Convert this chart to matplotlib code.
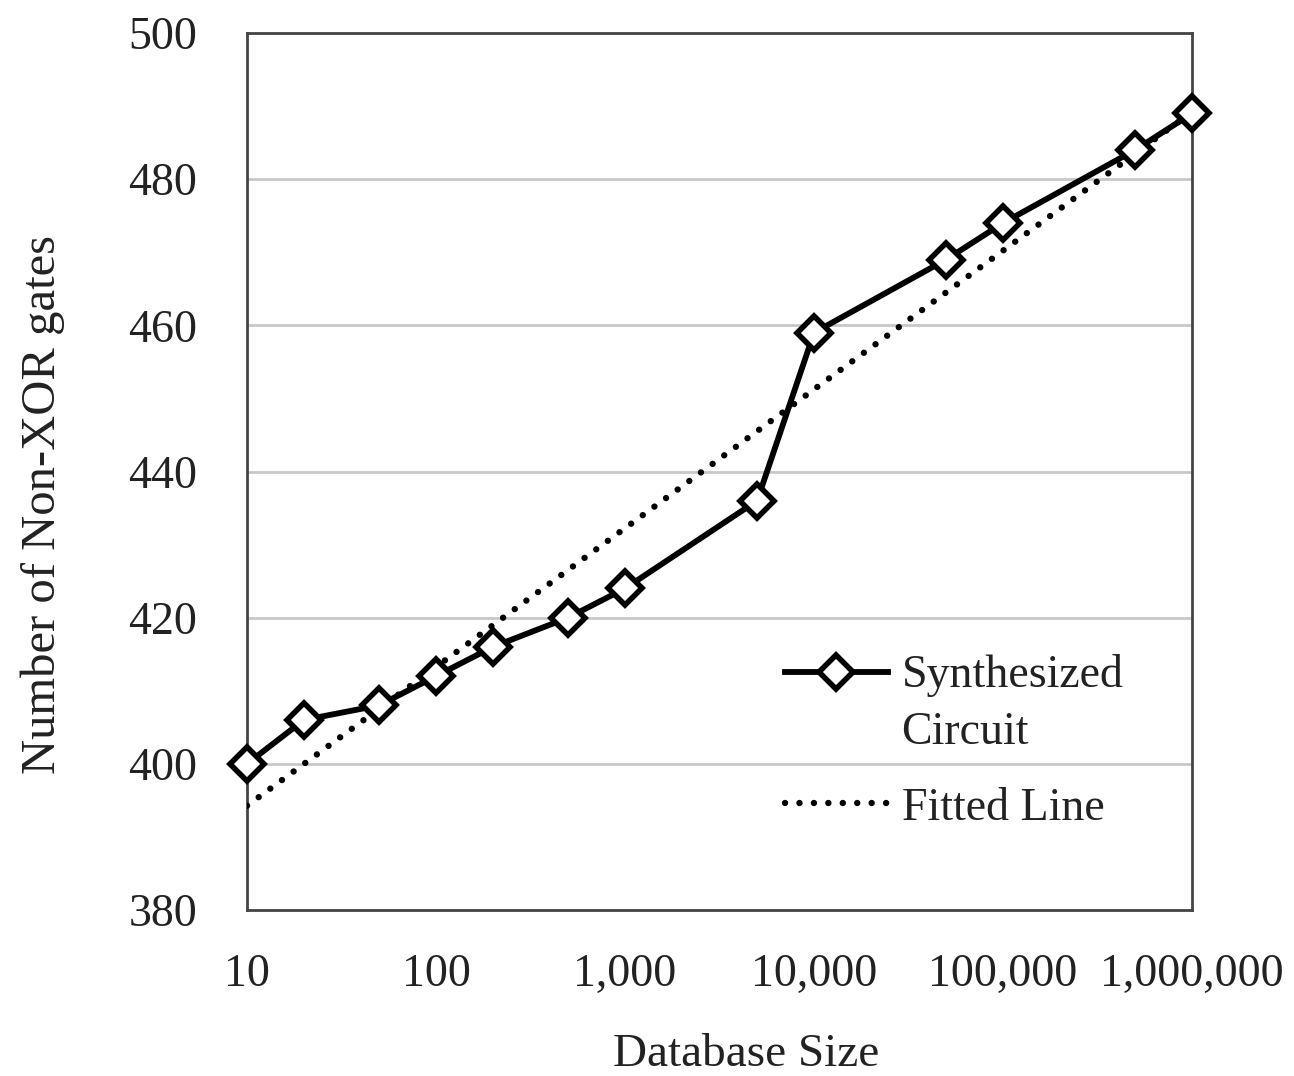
import matplotlib
matplotlib.use("Agg")
import matplotlib.pyplot as plt
from matplotlib.legend_handler import HandlerLine2D
import numpy as np

# database size vs. number of non-XOR gates
db_size = np.array([10, 20, 50, 100, 200, 500, 1000, 5000, 10000, 50000, 100000, 500000, 1000000])
gates = np.array([400, 406, 408, 412, 416, 420, 424, 436, 459, 469, 474, 484, 489])
xtick_vals = [10, 100, 1000, 10000, 100000, 1000000]
xtick_labels = ["10", "100", "1,000", "10,000", "100,000", "1,000,000"]
ytick_vals = [380, 400, 420, 440, 460, 480, 500]

plt.rcParams['font.family'] = ['Liberation Serif', 'DejaVu Serif']
FS = 33


class TopLineHandler(HandlerLine2D):
    # put the handle next to the first line of a two-line label
    def create_artists(self, legend, orig_handle, xdescent, ydescent, width, height, fontsize, trans):
        arts = super().create_artists(legend, orig_handle, xdescent, ydescent, width, height, fontsize, trans)
        for a in arts:
            a.set_ydata(np.asarray(a.get_ydata()) + height * 0.99)
        return arts


fig = plt.figure(figsize=(12.94, 10.76), dpi=100)
ax = fig.add_axes([0.1909, 0.1543, 0.7303, 0.815])

# logarithmic trend line (as excel does it)
p = np.poly1d(np.polyfit(np.log10(db_size), gates, 1))
xf = np.logspace(1, 6, 200)
fit, = ax.plot(xf, p(np.log10(xf)), color='black', lw=4.6, linestyle=(0, (0.01, 2.25)),
               dash_capstyle='round', label='Fitted Line', zorder=3)

syn, = ax.plot(db_size, gates, color='black', lw=4.2, marker='D', ms=17, mfc='white',
               mec='black', mew=4, label='Synthesized\nCircuit', zorder=4, clip_on=False)

ax.set_xscale('log')
ax.set_xlim(10, 1000000)
ax.set_ylim(380, 500)
ax.set_xticks(xtick_vals)
ax.set_xticklabels(xtick_labels)
ax.minorticks_off()
ax.set_yticks(ytick_vals)
ax.tick_params(length=0, labelsize=FS, colors='#222222')
ax.tick_params(axis='x', pad=31)
ax.tick_params(axis='y', pad=36)
ax.yaxis.grid(True, color='#c8c8c8', lw=2)
ax.set_axisbelow(True)
for s in ax.spines.values():
    s.set_color('#444444')
    s.set_linewidth(2)

ax.set_xlabel('Database Size', fontsize=FS + 1, color='#222222')
ax.xaxis.set_label_coords(0.528, -0.141)
ax.set_ylabel('Number of Non-XOR gates', fontsize=FS + 2, color='#222222')
ax.yaxis.set_label_coords(-0.193, 0.462)

leg = ax.legend([syn, fit], ['Synthesized\nCircuit', 'Fitted Line'], loc='upper left',
                bbox_to_anchor=(0.569, 0.292), frameon=False, borderaxespad=0,
                fontsize=FS, handlelength=2.25, handletextpad=0.3, labelspacing=0.72,
                borderpad=0, labelcolor='#222222',
                handler_map={syn: TopLineHandler()})
for t in leg.get_texts():
    t.set_linespacing(1.45)

plt.savefig('out.png', dpi=100)
